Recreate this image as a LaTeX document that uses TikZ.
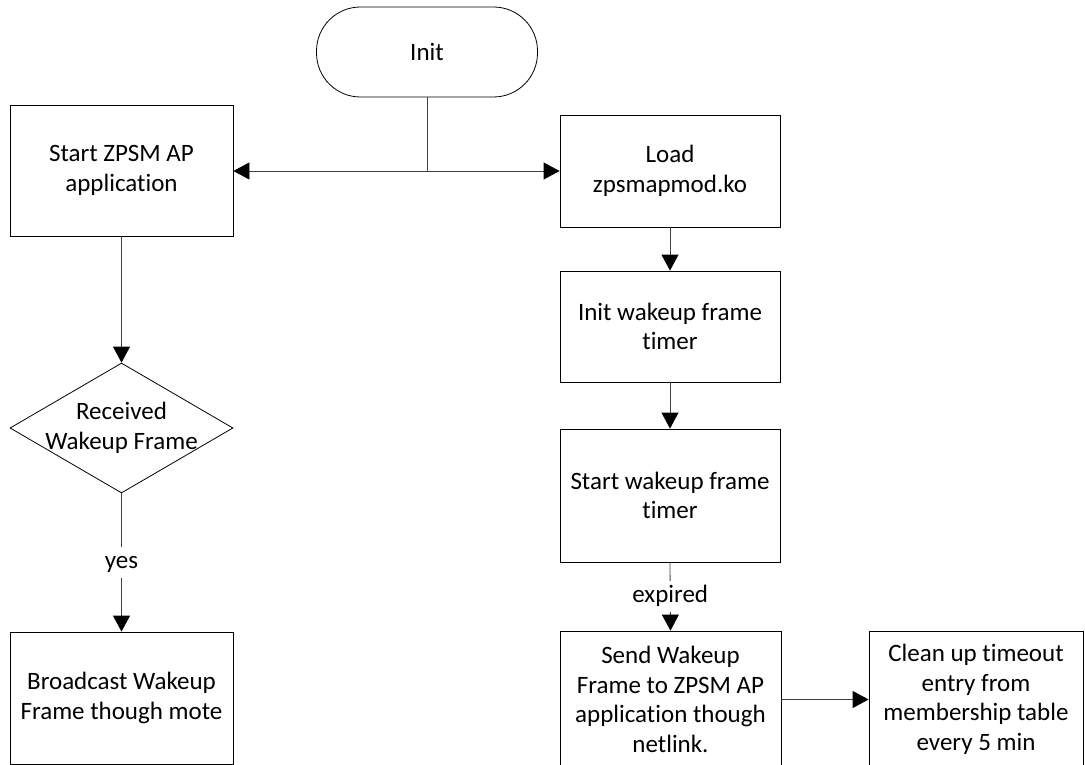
\documentclass[tikz,border=0pt]{standalone}
\usepackage{fontspec}
\setmainfont{Carlito}[Ligatures=NoCommon]
\usetikzlibrary{arrows.meta,shapes.geometric}
\tikzset{
  base/.style={draw=black, line width=0.8pt, align=center, inner sep=2pt,
    font=\fontsize{25}{29.5}\selectfont},
  box/.style={base, rectangle},
  term/.style={base, rectangle, rounded corners=44pt},
  dec/.style={draw=black, line width=0.8pt, diamond, inner sep=0pt},
  txt/.style={align=center, inner sep=0pt, font=\fontsize{25}{29.5}\selectfont},
  conn/.style={draw=black!75, line width=0.8pt},
  arr/.style={conn, -{Triangle[width=17pt,length=16pt,black]}},
  edgelabel/.style={fill=white, inner sep=4pt, text height=17pt, text depth=6pt,
    font=\fontsize{25}{29.5}\selectfont}
}
\begin{document}
\begin{tikzpicture}[x=1pt,y=-1pt]
\useasboundingbox (0,0) rectangle (1085,765);
\clip (0,0) rectangle (1085,765);
\fill[white] (0,0) rectangle (1085,765);

\node[term, minimum width=221pt, minimum height=90pt] (init) at (427,52) {Init};
\node[box, minimum width=223pt, minimum height=131pt] (start) at (121.5,170.5) {Start ZPSM AP\\application};
\node[box, minimum width=220pt, minimum height=112pt] (load) at (670,171) {Load\\zpsmapmod.ko};
\node[box, minimum width=220pt, minimum height=111pt] (iwt) at (670,326.5) {Init wakeup frame\\timer};
\node[box, minimum width=220pt, minimum height=133pt] (swt) at (670,495.5) {Start wakeup frame\\timer};
\node[dec, minimum width=223pt, minimum height=130pt] (recv) at (121.5,428) {};
\node[txt] (recvtxt) at (recv.center) {Received\\Wakeup Frame};
\node[box, minimum width=223pt, minimum height=132pt] (bcast) at (121.5,698) {Broadcast Wakeup\\Frame though mote};
\node[box, minimum width=221pt, minimum height=137pt] (send) at (670.5,699.5) {Send Wakeup\\Frame to ZPSM AP\\application though\\netlink.};
\node[box, minimum width=214pt, minimum height=137pt] (clean) at (976,699.5) {Clean up timeout\\entry from\\membership table\\every 5 min};

\coordinate (j) at (init.south |- load.west);
\draw[conn] (init.south) -- (j);
\draw[arr] (j) -- (j -| start.east);
\draw[arr] (j) -- (load.west);
\draw[arr] (load.south) -- (iwt.north);
\draw[arr] (iwt.south) -- (swt.north);
\draw[arr] (start.south) -- (recv.north);
\draw[arr] (recv.south) -- node[edgelabel, midway] {yes} (bcast.north);
\draw[arr] (swt.south) -- node[edgelabel, midway] {expired} (send.north);
\draw[arr] (send.east) -- (send.east -| clean.west);
\end{tikzpicture}
\end{document}
